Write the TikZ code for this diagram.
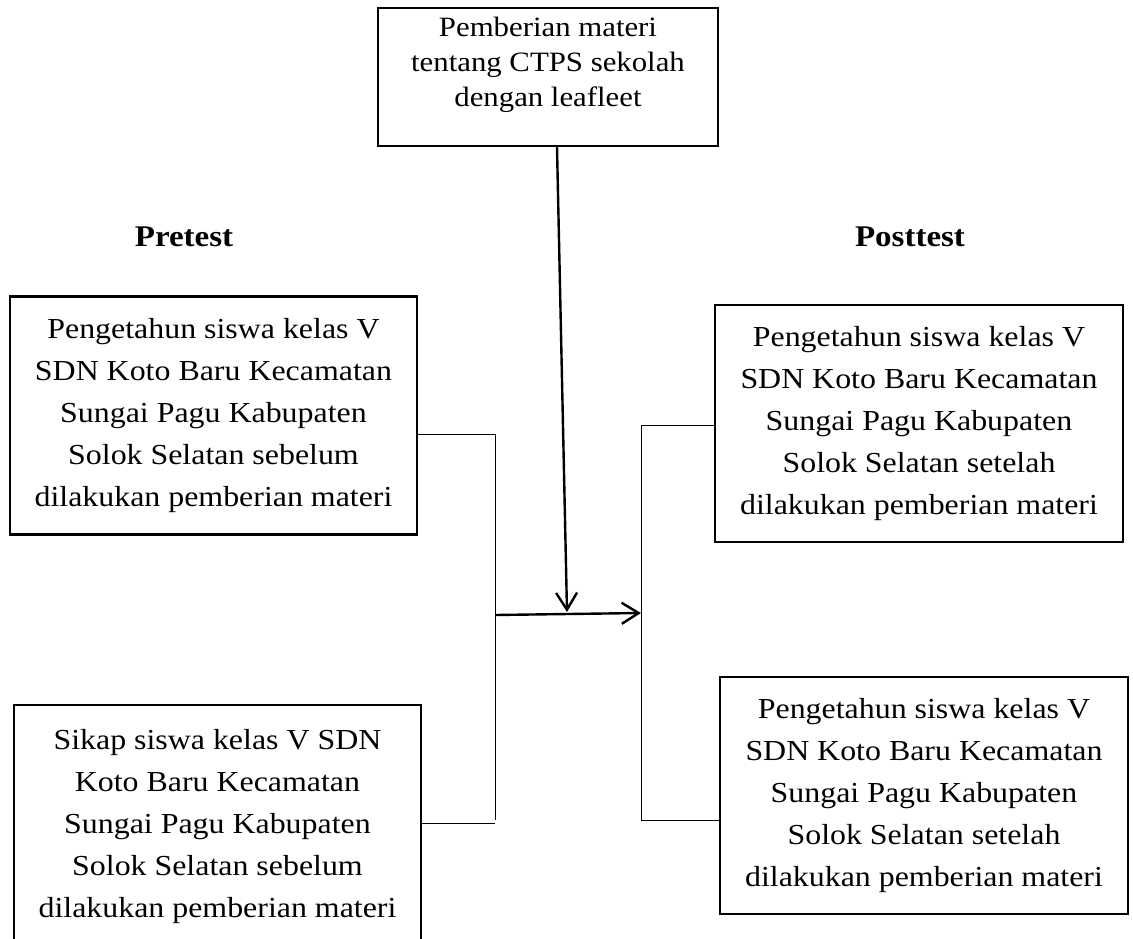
\documentclass[tikz,border=0pt]{standalone}
\usepackage{fontspec}
\setmainfont{Liberation Serif}[FakeStretch=1.1]
\usetikzlibrary{arrows.meta,positioning}

\begin{document}
\begin{tikzpicture}[x=1pt,y=-1pt,>={Straight Barb[length=17pt,width=21pt]}]
\tikzstyle{block}=[draw=black,line width=2.4pt,align=center,inner sep=0pt,minimum width=407pt,minimum height=238pt,font=\fontsize{29}{42}\selectfont]
\tikzstyle{heading}=[font=\fontsize{30}{36}\selectfont\bfseries]
\tikzstyle{joint}=[line width=1pt]
\tikzstyle{flow}=[->,line width=2.4pt]

\useasboundingbox (0,0) rectangle (1133,938);

\node [block] (materi) at(548,77)[minimum width=340pt,minimum height=138pt,font=\fontsize{28}{35}\selectfont] {Pemberian materi\\tentang CTPS sekolah\\dengan leafleet\\[-16pt]\strut};

\node [heading] (pretest) at(184,237) {Pretest};
\node [heading] (posttest) at(910,237) {Posttest};

\node [block] (pre1) at(213.5,415.5) {Pengetahun siswa kelas V\\SDN Koto Baru Kecamatan\\Sungai Pagu Kabupaten\\Solok Selatan sebelum\\dilakukan pemberian materi};
\node [block] (pre2) at(217.5,826.5)[minimum height=243pt] {Sikap siswa kelas V SDN\\Koto Baru Kecamatan\\Sungai Pagu Kabupaten\\Solok Selatan sebelum\\dilakukan pemberian materi};
\node [block] (post1) at(919,423.5)[minimum width=408pt,minimum height=237pt] {Pengetahun siswa kelas V\\SDN Koto Baru Kecamatan\\Sungai Pagu Kabupaten\\Solok Selatan setelah\\dilakukan pemberian materi};
\node [block] (post2) at(924,795.5)[minimum width=408pt,minimum height=237pt] {Pengetahun siswa kelas V\\SDN Koto Baru Kecamatan\\Sungai Pagu Kabupaten\\Solok Selatan setelah\\dilakukan pemberian materi};

% brackets
\coordinate (ltop) at(495,434);
\coordinate (lbot) at(495,823);
\coordinate (lmid) at(495,615);
\coordinate (rtop) at(641,425);
\coordinate (rbot) at(641,820);
\coordinate (rmid) at(641,613);
\coordinate (mtip) at(567,612);

\draw [joint] (pre1.east |- ltop) -- (ltop) -- ([yshift=3pt]lbot);
\draw [joint] (pre2.east |- lbot) -- (lbot);
\draw [joint] (post1.west |- rtop) -- (rtop) -- (rbot) -- (post2.west |- rbot);

\draw [flow] (lmid) -- (rmid);
\draw [flow] ([xshift=9pt]materi.south) -- (mtip);
\end{tikzpicture}
\end{document}
